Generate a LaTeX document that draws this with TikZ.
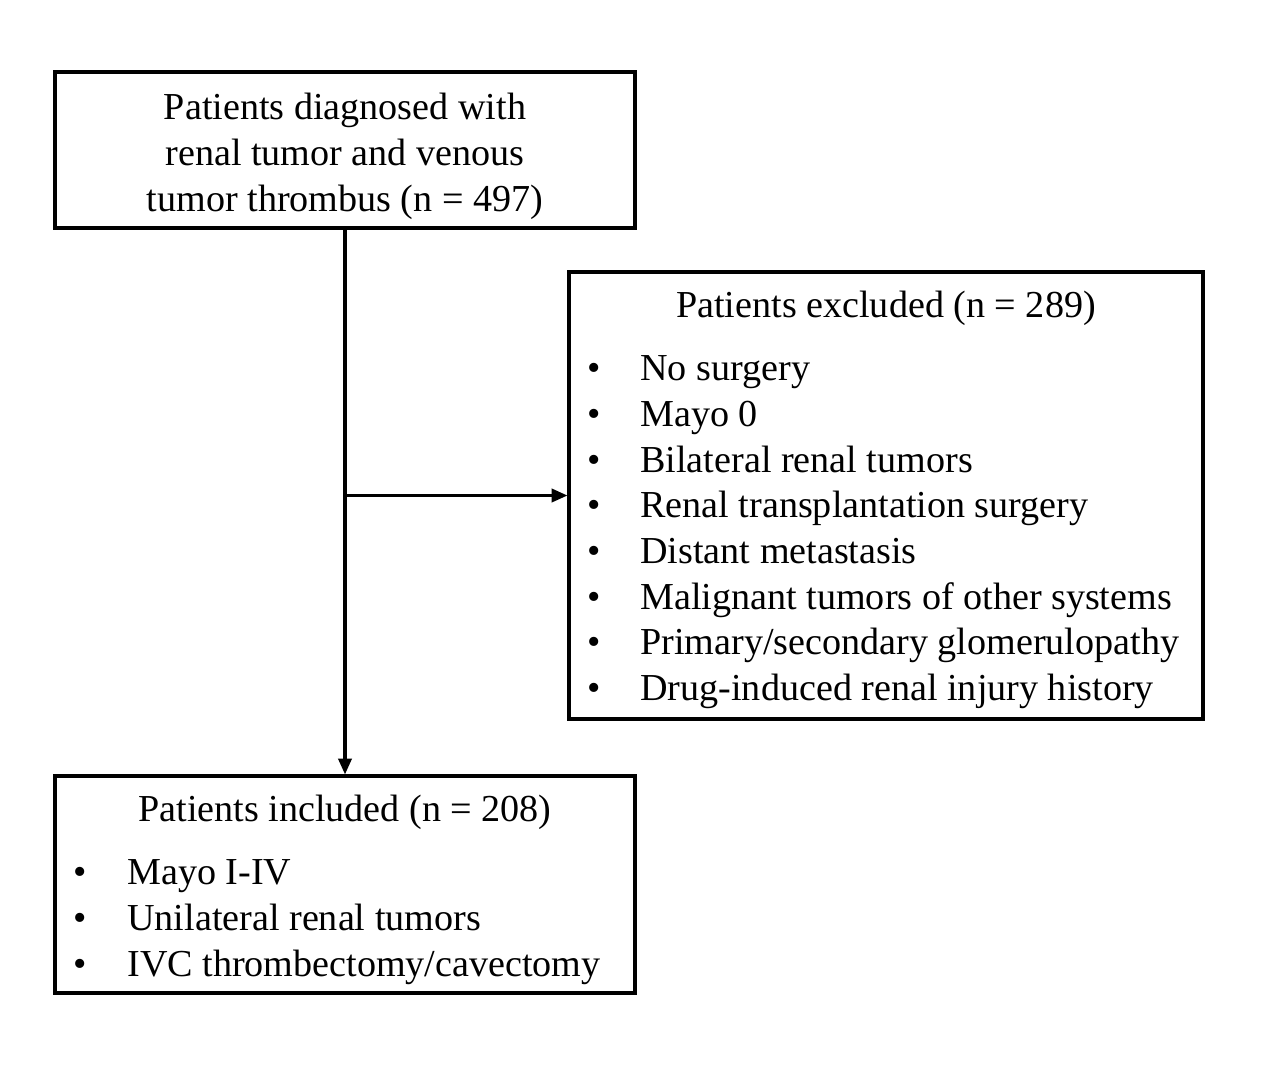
\documentclass[tikz,border=0pt]{standalone}
\usepackage{fontspec}
\setmainfont{Liberation Serif}
\usetikzlibrary{arrows.meta}
\tikzset{
  box/.style={draw, line width=1.8pt, minimum width=11.6cm},
  txt/.style={inner sep=0pt, font=\fontsize{21.7}{26}\selectfont},
  arr/.style={line width=1.8pt, -{Triangle[length=9pt,width=7.5pt]}}
}

\begin{document}
\begin{tikzpicture}[x=0.02cm, y=-0.02cm]
\useasboundingbox (0,0) rectangle (1269,1069);
% Boxes
\node[box, minimum height=3.12cm] (diag) at (345,150) {};
\node[box, minimum width=12.68cm, minimum height=8.94cm] (excl) at (886,495.5) {};
\node[box, minimum height=4.34cm] (incl) at (345,884.5) {};
% Top box
\node[txt, anchor=base] (d1) at (345,119) {Patients diagnosed with};
\node[txt, anchor=base] (d2) at (345,165) {renal tumor and venous};
\node[txt, anchor=base] (d3) at (345,211) {tumor thrombus (n = 497)};
% Excluded
\node[txt, anchor=base] (extitle) at (886,317) {Patients excluded (n = 289)};
\foreach \t [count=\i] in {No surgery, Mayo 0, Bilateral renal tumors,
    Renal transplantation surgery, Distant metastasis,
    Malignant tumors of other systems, Primary/secondary glomerulopathy,
    Drug-induced renal injury history} {
  \node[txt, anchor=base] (exdot\i) at (594,{380.6+45.7*(\i-1)}) {\textbullet};
  \node[txt, anchor=base west] (ex\i) at (640,{380.6+45.7*(\i-1)}) {\t};
}
% Included
\node[txt, anchor=base] (intitle) at (345,821) {Patients included (n = 208)};
\foreach \t [count=\i] in {Mayo I-IV, Unilateral renal tumors,
    IVC thrombectomy/cavectomy} {
  \node[txt, anchor=base] (indot\i) at (80,{884+46*(\i-1)}) {\textbullet};
  \node[txt, anchor=base west] (in\i) at (127,{884+46*(\i-1)}) {\t};
}
% Arrows
\coordinate (split) at (345,495.5);
\draw[arr] (diag.south) -- (incl.north);
\draw[arr] (split) -- (excl.west);
\end{tikzpicture}
\end{document}
